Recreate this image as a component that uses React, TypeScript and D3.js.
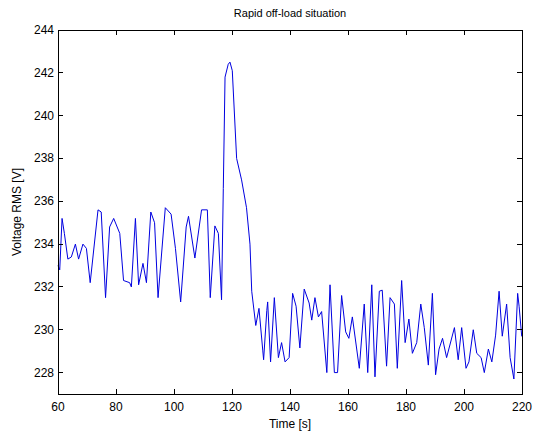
import React from "react";
import * as d3 from "d3";

const times = [
  60, 60.6, 61.4, 62.2, 63.4, 64.6, 66, 67.1, 68.6, 69.8, 71.1, 73.8, 74.9, 76.4, 77.8, 79.2,
  81.3, 82.6, 84.7, 85.3, 86.7, 87.8, 89.3, 90.5, 92, 93.3, 94.5, 97, 99, 100.5, 102.3, 104.2,
  105, 107.2, 109.5, 111.5, 112.5, 114.1, 115.3, 116.4, 117, 117.6, 118.7, 119.3, 120.1, 121.6,
  123.3, 125, 126.2, 126.8, 128.2, 129.3, 130.6, 130.9, 132, 132.3, 133.3, 134.6, 136, 137.1,
  138.3, 139.7, 140.9, 142.1, 143.4, 144.9, 146.6, 147.5, 148.6, 149.8, 150.9, 152.7, 153.8,
  155.3, 156.4, 157.8, 159.2, 160.3, 161.5, 163.9, 165.6, 166.8, 168.2, 169.3, 170.8, 171.8,
  173.3, 174.5, 176, 177, 178.5, 179.7, 181, 182.2, 183.7, 185.1, 186.3, 187.7, 189.1, 190.2,
  191.4, 192.6, 194, 196.7, 198, 199.2, 200.7, 201.7, 203.2, 204.4, 205.9, 207, 208.4, 209.6,
  210.9, 212.1, 213.2, 214.7, 215.9, 217.2, 218.5, 219, 219.9, 220,
];

const voltage = [
  233.0, 232.8, 235.2, 234.5, 233.3, 233.4, 234.0, 233.3, 234.0, 233.8, 232.2, 235.6, 235.5, 231.5, 234.8, 235.2,
  234.5, 232.3, 232.2, 232.0, 235.2, 232.1, 233.1, 232.2, 235.5, 235.0, 231.5, 235.7, 235.4, 233.8, 231.3, 234.8,
  235.3, 233.35, 235.6, 235.6, 231.5, 234.85, 234.5, 231.4, 236.6, 241.8, 242.4, 242.5, 242.1, 238.0,
  237.0, 235.7, 234.0, 231.8, 230.2, 231.0, 229.05, 228.6, 230.9, 231.3, 228.5, 231.5, 228.7, 229.4,
  228.5, 228.7, 231.7, 231.1, 229.15, 231.9, 231.25, 230.45, 231.5, 230.6, 230.85, 228.0, 232.1,
  228.0, 228.0, 231.6, 229.9, 229.6, 230.6, 228.2, 231.2, 228.0, 232.1, 227.8, 231.8, 231.85,
  228.3, 231.5, 231.2, 228.2, 232.3, 229.4, 230.5, 228.9, 229.4, 231.2, 230.1, 228.35, 231.7, 227.9,
  229.1, 229.6, 228.7, 230.1, 228.6, 230.1, 228.2, 228.5, 230.0, 228.9, 228.7, 228.0, 229.1, 228.5,
  229.75, 231.8, 229.7, 231.2, 228.7, 227.7, 231.7, 231.1, 229.7, 229.7,
];

const xTicks = [60, 80, 100, 120, 140, 160, 180, 200, 220];
const yTicks = [228, 230, 232, 234, 236, 238, 240, 242, 244];

const titleText = "Rapid off-load situation";
const xLabel = "Time [s]";
const yLabel = "Voltage RMS [V]";

export default function App() {
  const W = 533;
  const H = 434;
  const left = 58;
  const right = 522;
  const top = 30;
  const bottom = 394;

  const x = d3.scaleLinear().domain([60, 220]).range([left, right]);
  const y = d3.scaleLinear().domain([227, 244]).range([bottom, top]);

  const pts = times.map((t, i) => [t, voltage[i]] as [number, number]);
  const line = d3
    .line<[number, number]>()
    .x((d) => x(d[0]))
    .y((d) => y(d[1]));

  const font = "'Liberation Sans', Arial, Helvetica, sans-serif";
  const tl = 5;

  return (
    <svg
      width={W}
      height={H}
      style={{ position: "absolute", left: 0, top: 0, background: "#fff" }}
      fontFamily={font}
    >
      <rect x={0} y={0} width={W} height={H} fill="#fff" />
      <path d={line(pts) || ""} fill="none" stroke="#0000e0" strokeWidth={1} />
      <rect
        x={left}
        y={top}
        width={right - left}
        height={bottom - top}
        fill="none"
        stroke="#000"
        strokeWidth={1}
        shapeRendering="crispEdges"
      />
      {xTicks.map((t) => (
        <g key={"x" + t}>
          <line x1={x(t)} x2={x(t)} y1={bottom} y2={bottom - tl} stroke="#000" shapeRendering="crispEdges" />
          <line x1={x(t)} x2={x(t)} y1={top} y2={top + tl} stroke="#000" shapeRendering="crispEdges" />
          <text x={x(t)} y={411} textAnchor="middle" fontSize={12} fill="#000">
            {t}
          </text>
        </g>
      ))}
      {yTicks.map((t) => (
        <g key={"y" + t}>
          <line x1={left} x2={left + tl} y1={y(t)} y2={y(t)} stroke="#000" shapeRendering="crispEdges" />
          <line x1={right} x2={right - tl} y1={y(t)} y2={y(t)} stroke="#000" shapeRendering="crispEdges" />
          <text x={54} y={y(t) + 4} textAnchor="end" fontSize={12} fill="#000">
            {t}
          </text>
        </g>
      ))}
      <text x={(left + right) / 2} y={17} textAnchor="middle" fontSize={11} fill="#000">
        {titleText}
      </text>
      <text x={(left + right) / 2} y={428} textAnchor="middle" fontSize={12} fill="#000">
        {xLabel}
      </text>
      <text
        transform={`translate(21, ${(top + bottom) / 2}) rotate(-90)`}
        textAnchor="middle"
        fontSize={12}
        fill="#000"
      >
        {yLabel}
      </text>
    </svg>
  );
}
